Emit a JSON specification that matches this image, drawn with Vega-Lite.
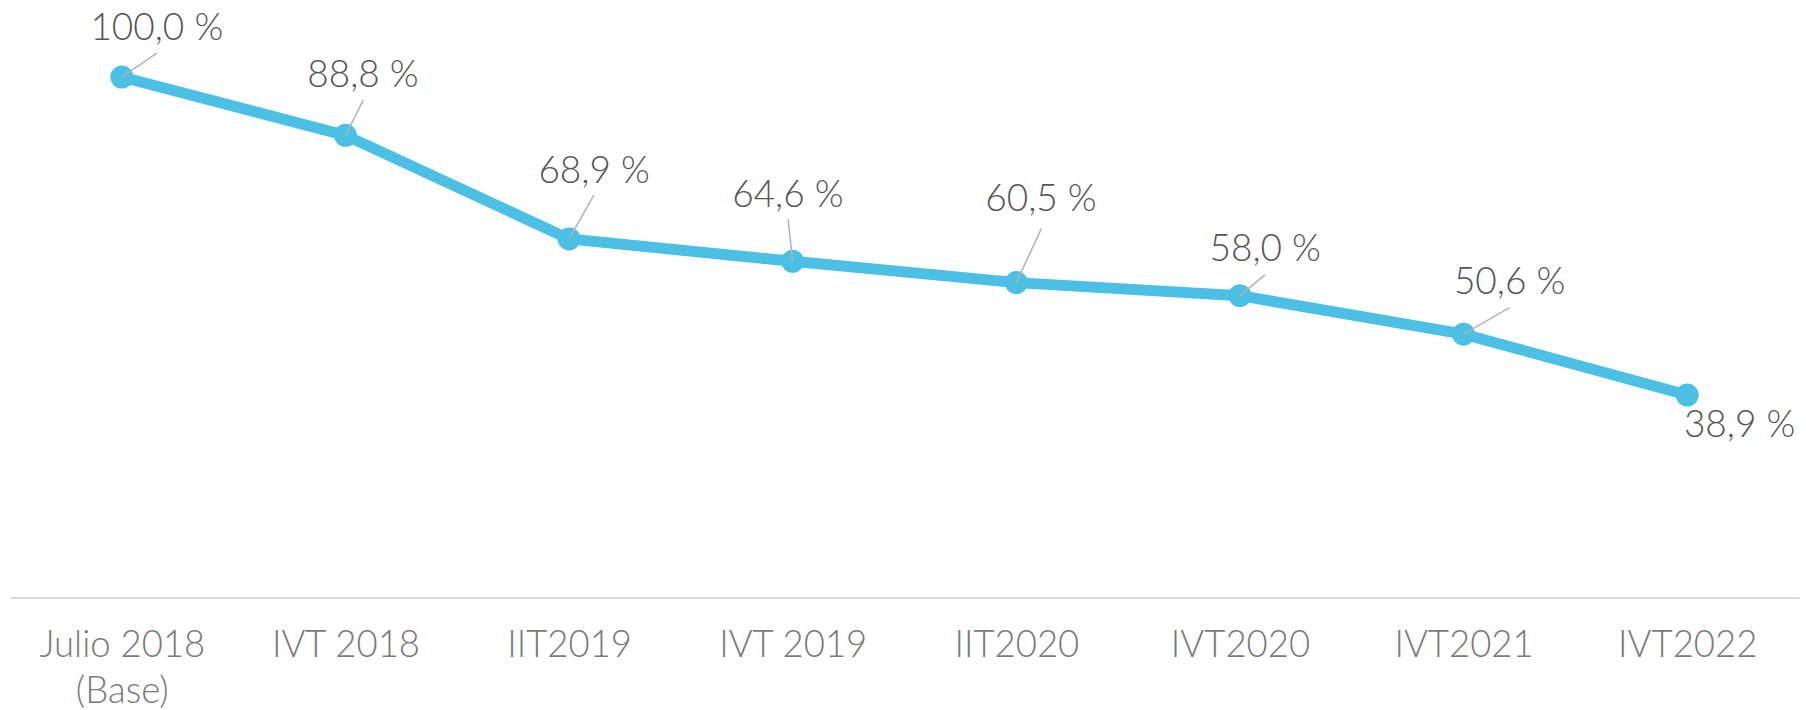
{
  "$schema": "https://vega.github.io/schema/vega-lite/v6.json",
  "autosize": {"type": "none"},
  "padding": {"left": 10, "top": 25, "right": 7, "bottom": 112.5},
  "width": 1789,
  "height": 572.5,
  "background": "white",
  "config": {"view": {"stroke": null}, "font": "Lato"},
  "data": {"values": [
    {"periodo": "Julio 2018 (Base)", "valor": 100.0, "etiqueta": "100,0 %"},
    {"periodo": "IVT 2018", "valor": 88.8, "etiqueta": "88,8 %"},
    {"periodo": "IIT2019", "valor": 68.9, "etiqueta": "68,9 %"},
    {"periodo": "IVT 2019", "valor": 64.6, "etiqueta": "64,6 %"},
    {"periodo": "IIT2020", "valor": 60.5, "etiqueta": "60,5 %"},
    {"periodo": "IVT2020", "valor": 58.0, "etiqueta": "58,0 %"},
    {"periodo": "IVT2021", "valor": 50.6, "etiqueta": "50,6 %"},
    {"periodo": "IVT2022", "valor": 38.9, "etiqueta": "38,9 %"}
  ]},
  "encoding": {
    "x": {
      "field": "periodo", "type": "nominal", "sort": null,
      "scale": {"type": "point", "padding": 0.5},
      "axis": {
        "title": null, "domainColor": "#d9d9d9", "domainWidth": 2, "ticks": false, "grid": false,
        "labelAngle": 0, "labelFont": "Lato", "labelFontSize": 36.5, "labelColor": "#7a7a7a",
        "labelPadding": 30, "labelLineHeight": 46, "labelFontWeight": 300,
        "labelExpr": "datum.value == 'Julio 2018 (Base)' ? ['Julio 2018', '(Base)'] : datum.value"
      }
    },
    "y": {"field": "valor", "type": "quantitative", "scale": {"domain": [0, 110]}, "axis": null}
  },
  "layer": [
    {"mark": {"type": "line", "color": "#4bc0e4", "strokeWidth": 11}},
    {"mark": {"type": "circle", "color": "#4bc0e4", "opacity": 1, "size": 530}},
    {"transform": [{"filter": "datum.periodo == 'Julio 2018 (Base)'"}], "mark": {"type": "rule", "color": "#b3b3b3", "strokeWidth": 1.5, "x2Offset": 35, "y2Offset": -24}, "encoding": {"x2": {"field": "periodo"}, "y2": {"field": "valor"}}},
    {"transform": [{"filter": "datum.periodo == 'IVT 2018'"}], "mark": {"type": "rule", "color": "#b3b3b3", "strokeWidth": 1.5, "x2Offset": 17.7, "y2Offset": -35}, "encoding": {"x2": {"field": "periodo"}, "y2": {"field": "valor"}}},
    {"transform": [{"filter": "datum.periodo == 'IIT2019'"}], "mark": {"type": "rule", "color": "#b3b3b3", "strokeWidth": 1.5, "x2Offset": 25, "y2Offset": -44}, "encoding": {"x2": {"field": "periodo"}, "y2": {"field": "valor"}}},
    {"transform": [{"filter": "datum.periodo == 'IVT 2019'"}], "mark": {"type": "rule", "color": "#b3b3b3", "strokeWidth": 1.5, "x2Offset": -4.6, "y2Offset": -42}, "encoding": {"x2": {"field": "periodo"}, "y2": {"field": "valor"}}},
    {"transform": [{"filter": "datum.periodo == 'IIT2020'"}], "mark": {"type": "rule", "color": "#b3b3b3", "strokeWidth": 1.5, "x2Offset": 25, "y2Offset": -54}, "encoding": {"x2": {"field": "periodo"}, "y2": {"field": "valor"}}},
    {"transform": [{"filter": "datum.periodo == 'IVT2020'"}], "mark": {"type": "rule", "color": "#b3b3b3", "strokeWidth": 1.5, "x2Offset": 25, "y2Offset": -20.7}, "encoding": {"x2": {"field": "periodo"}, "y2": {"field": "valor"}}},
    {"transform": [{"filter": "datum.periodo == 'IVT2021'"}], "mark": {"type": "rule", "color": "#b3b3b3", "strokeWidth": 1.5, "x2Offset": 46, "y2Offset": -26.6}, "encoding": {"x2": {"field": "periodo"}, "y2": {"field": "valor"}}},
    {"transform": [{"filter": "datum.periodo == 'Julio 2018 (Base)'"}], "mark": {"type": "text", "font": "Lato", "fontSize": 37, "fontWeight": 300, "color": "#555555", "align": "center", "baseline": "alphabetic", "dx": 35, "dy": -37}, "encoding": {"text": {"field": "etiqueta"}}},
    {"transform": [{"filter": "datum.periodo == 'IVT 2018'"}], "mark": {"type": "text", "font": "Lato", "fontSize": 37, "fontWeight": 300, "color": "#555555", "align": "center", "baseline": "alphabetic", "dx": 17.5, "dy": -48.5}, "encoding": {"text": {"field": "etiqueta"}}},
    {"transform": [{"filter": "datum.periodo == 'IIT2019'"}], "mark": {"type": "text", "font": "Lato", "fontSize": 37, "fontWeight": 300, "color": "#555555", "align": "center", "baseline": "alphabetic", "dx": 25, "dy": -56.3}, "encoding": {"text": {"field": "etiqueta"}}},
    {"transform": [{"filter": "datum.periodo == 'IVT 2019'"}], "mark": {"type": "text", "font": "Lato", "fontSize": 37, "fontWeight": 300, "color": "#555555", "align": "center", "baseline": "alphabetic", "dx": -4.8, "dy": -54.3}, "encoding": {"text": {"field": "etiqueta"}}},
    {"transform": [{"filter": "datum.periodo == 'IIT2020'"}], "mark": {"type": "text", "font": "Lato", "fontSize": 37, "fontWeight": 300, "color": "#555555", "align": "center", "baseline": "alphabetic", "dx": 24.6, "dy": -71.6}, "encoding": {"text": {"field": "etiqueta"}}},
    {"transform": [{"filter": "datum.periodo == 'IVT2020'"}], "mark": {"type": "text", "font": "Lato", "fontSize": 37, "fontWeight": 300, "color": "#555555", "align": "center", "baseline": "alphabetic", "dx": 25.3, "dy": -34.3}, "encoding": {"text": {"field": "etiqueta"}}},
    {"transform": [{"filter": "datum.periodo == 'IVT2021'"}], "mark": {"type": "text", "font": "Lato", "fontSize": 37, "fontWeight": 300, "color": "#555555", "align": "center", "baseline": "alphabetic", "dx": 46, "dy": -40}, "encoding": {"text": {"field": "etiqueta"}}},
    {"transform": [{"filter": "datum.periodo == 'IVT2022'"}], "mark": {"type": "text", "font": "Lato", "fontSize": 37, "fontWeight": 300, "color": "#555555", "align": "center", "baseline": "alphabetic", "dx": 52.4, "dy": 42.3}, "encoding": {"text": {"field": "etiqueta"}}}
  ]
}
